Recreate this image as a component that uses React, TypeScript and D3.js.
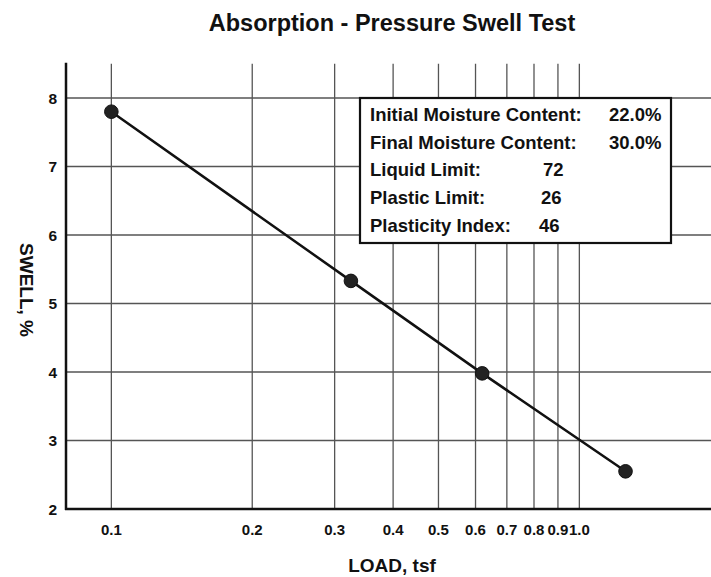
import React from "react";
import * as d3 from "d3";

const loads = [0.1, 0.325, 0.62, 1.255];
const swells = [7.8, 5.33, 3.98, 2.55];
const xTicks = [0.1, 0.2, 0.3, 0.4, 0.5, 0.6, 0.7, 0.8, 0.9, 1.0];
const xTickLabels = ["0.1", "0.2", "0.3", "0.4", "0.5", "0.6", "0.7", "0.8", "0.9", "1.0"];
const yTicks = [2, 3, 4, 5, 6, 7, 8];
const legendLabels = [
  "Initial Moisture Content:",
  "Final Moisture Content:",
  "Liquid Limit:",
  "Plastic Limit:",
  "Plasticity Index:",
];
const legendValues = ["22.0%", "30.0%", "72", "26", "46"];
const title = "Absorption - Pressure Swell Test";

const W = 711;
const H = 577;
const FONT = "'Liberation Sans', Arial, Helvetica, sans-serif";

export default function App() {
  const x = d3.scaleLog().domain([0.08, 2]).range([66, 66 + 468 * Math.log10(25)]);
  const y = d3.scaleLinear().domain([2, 8.5]).range([509, 63.75]);
  const plotLeft = 66;
  const plotRight = W;
  const plotTop = y(8.5);
  const plotBottom = y(2);

  const line = d3
    .line<number>()
    .x((_, i) => x(loads[i]))
    .y((d) => y(d));

  const legendX = [370, 370, 370, 370, 370];
  const valueX = [609, 609, 543, 541, 539];

  return (
    <svg width={W} height={H} style={{ position: "absolute", left: 0, top: 0, background: "#fff" }}>
      <rect x={0} y={0} width={W} height={H} fill="#fff" />
      <text
        x={392}
        y={31}
        textAnchor="middle"
        fontFamily={FONT}
        fontWeight="bold"
        fontSize={23.5}
        fill="#111"
      >
        {title}
      </text>

      {/* vertical gridlines */}
      {xTicks.map((t) => (
        <line
          key={"vx" + t}
          x1={x(t)}
          x2={x(t)}
          y1={plotTop}
          y2={plotBottom}
          stroke="#555"
          strokeWidth={1.3}
        />
      ))}
      {/* horizontal gridlines */}
      {yTicks.slice(1).map((t) => (
        <line
          key={"hy" + t}
          x1={plotLeft}
          x2={plotRight}
          y1={y(t)}
          y2={y(t)}
          stroke="#555"
          strokeWidth={1.3}
        />
      ))}

      {/* axes */}
      <line x1={plotLeft} x2={plotLeft} y1={plotTop - 1} y2={plotBottom + 1} stroke="#111" strokeWidth={2.5} />
      <line x1={plotLeft - 1} x2={plotRight} y1={plotBottom} y2={plotBottom} stroke="#111" strokeWidth={2.5} />

      {/* x tick labels */}
      {xTicks.map((t, i) => (
        <text
          key={"xl" + t}
          x={x(t)}
          y={535}
          textAnchor="middle"
          fontFamily={FONT}
          fontWeight="bold"
          fontSize={15}
          fill="#111"
        >
          {xTickLabels[i]}
        </text>
      ))}
      {/* y tick labels */}
      {yTicks.map((t) => (
        <text
          key={"yl" + t}
          x={57}
          y={y(t) + 5.5}
          textAnchor="end"
          fontFamily={FONT}
          fontWeight="bold"
          fontSize={15.5}
          fill="#111"
        >
          {t}
        </text>
      ))}

      {/* axis titles */}
      <text
        x={392}
        y={572}
        textAnchor="middle"
        fontFamily={FONT}
        fontWeight="bold"
        fontSize={19}
        fill="#111"
      >
        LOAD, tsf
      </text>
      <text
        transform={`translate(20,290) rotate(90)`}
        textAnchor="middle"
        fontFamily={FONT}
        fontWeight="bold"
        fontSize={19}
        fill="#111"
      >
        SWELL, %
      </text>

      {/* data line */}
      <path d={line(swells) || ""} fill="none" stroke="#111" strokeWidth={2.5} />
      {swells.map((s, i) => (
        <circle key={"p" + i} cx={x(loads[i])} cy={y(s)} r={6.8} fill="#222" stroke="#111" strokeWidth={1} />
      ))}

      {/* legend box */}
      <rect x={360} y={98} width={311} height={145} fill="#fff" stroke="#111" strokeWidth={2.2} />
      {legendLabels.map((l, i) => (
        <text
          key={"ll" + i}
          x={legendX[i]}
          y={121 + i * 27.7}
          fontFamily={FONT}
          fontWeight="bold"
          fontSize={18.5}
          fill="#111"
        >
          {l}
        </text>
      ))}
      {legendValues.map((v, i) => (
        <text
          key={"lv" + i}
          x={valueX[i]}
          y={121 + i * 27.7}
          fontFamily={FONT}
          fontWeight="bold"
          fontSize={18.5}
          fill="#111"
        >
          {v}
        </text>
      ))}
    </svg>
  );
}
